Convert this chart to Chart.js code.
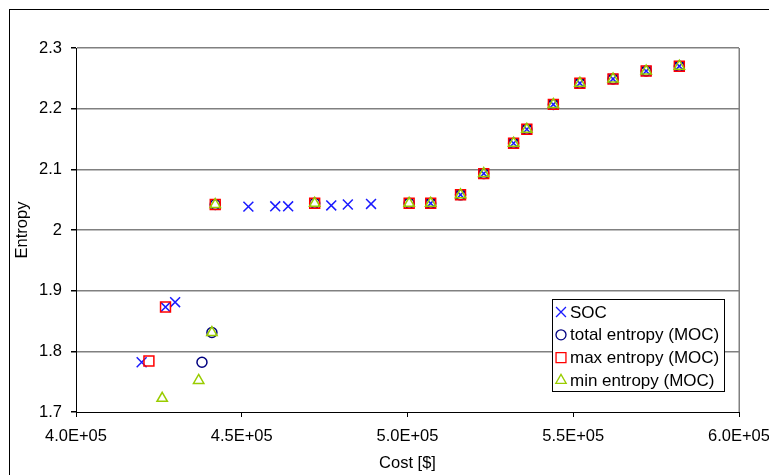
<!DOCTYPE html>
<html>
<head>
<meta charset="utf-8">
<script src="https://cdn.jsdelivr.net/npm/chart.js@4/dist/chart.umd.min.js"></script>
<style>
  html, body { margin: 0; padding: 0; background: #fff; }
  #wrap { width: 769px; height: 475px; }
</style>
</head>
<body>
<div id="wrap"><canvas id="c" width="769" height="475"></canvas></div>
<script>
// values
var socCost    = [419800, 427000, 429900, 452000, 460100, 464000, 477000, 482000, 489000, 507000,
                  516000, 523000, 532000, 536000, 544000, 552000, 562000, 572000, 582000];
var socEntropy = [1.782, 1.873, 1.881, 2.0385, 2.039, 2.039, 2.0405, 2.042, 2.043, 2.044,
                  2.058, 2.093, 2.143, 2.166, 2.207, 2.242, 2.249, 2.262, 2.270];

var totalCost    = [438000, 441000, 442000, 472000, 500500, 507000, 516000, 523000, 532000,
                    536000, 544000, 552000, 562000, 572000, 582000];
var totalEntropy = [1.782, 1.831, 2.042, 2.044, 2.044, 2.044, 2.058, 2.093, 2.143,
                    2.166, 2.207, 2.242, 2.249, 2.262, 2.270];

var maxCost    = [422000, 427000, 442000, 472000, 500500, 507000, 516000, 523000, 532000,
                  536000, 544000, 552000, 562000, 572000, 582000];
var maxEntropy = [1.784, 1.873, 2.042, 2.044, 2.044, 2.044, 2.058, 2.093, 2.143,
                  2.166, 2.207, 2.242, 2.249, 2.262, 2.270];

var minCost    = [426000, 437000, 441000, 442000, 472000, 500500, 507000, 516000, 523000,
                   532000, 536000, 544000, 552000, 562000, 572000, 582000];
var minEntropy = [1.7225, 1.752, 1.831, 2.042, 2.044, 2.044, 2.044, 2.058, 2.093,
                   2.143, 2.166, 2.207, 2.242, 2.249, 2.262, 2.270];

var seriesNames = ['SOC', 'total entropy (MOC)', 'max entropy (MOC)', 'min entropy (MOC)'];
var xTickLabels = ['4.0E+05', '4.5E+05', '5.0E+05', '5.5E+05', '6.0E+05'];
var yTickLabels = ['1.7', '1.8', '1.9', '2', '2.1', '2.2', '2.3'];

var FONT = "'Liberation Sans', Arial, sans-serif";

function pts(xs, ys) {
  return xs.map(function (x, i) { return { x: x, y: ys[i] }; });
}

var styles = [
  { style: 'crossRot', color: '#1a1aff', radius: 7 },
  { style: 'circle',   color: '#000080', radius: 5 },
  { style: 'rect',     color: '#ff0000', radius: 7 },
  { style: 'triangle', color: '#99cc00', radius: 6 }
];
var data = [pts(socCost, socEntropy), pts(totalCost, totalEntropy),
            pts(maxCost, maxEntropy), pts(minCost, minEntropy)];

var datasets = data.map(function (d, i) {
  return {
    label: seriesNames[i],
    data: d,
    showLine: false,
    pointStyle: styles[i].style,
    pointRadius: styles[i].radius,
    pointHoverRadius: styles[i].radius,
    pointBorderColor: styles[i].color,
    pointBackgroundColor: 'rgba(0,0,0,0)',
    pointBorderWidth: 1.5,
    order: 4 - i
  };
});

// outer frame, right edge of plot area, legend box
var decor = {
  id: 'decor',
  beforeDraw: function (chart) {
    var ctx = chart.ctx;
    ctx.save();
    ctx.fillStyle = '#fff';
    ctx.fillRect(0, 0, chart.width, chart.height);
    ctx.strokeStyle = '#000';
    ctx.lineWidth = 1;
    ctx.strokeRect(9.5, 9.5, 900, 900);
    ctx.restore();
  },
  afterDraw: function (chart) {
    var ctx = chart.ctx, a = chart.chartArea;
    ctx.save();
    ctx.strokeStyle = '#808080';
    ctx.lineWidth = 1.5;
    ctx.beginPath();
    ctx.moveTo(Math.round(a.right) + 0.25, a.top);
    ctx.lineTo(Math.round(a.right) + 0.25, a.bottom);
    ctx.stroke();

    // legend
    var bx = 552.5, by = 299.5, bw = 172, bh = 92;
    ctx.fillStyle = '#fff';
    ctx.fillRect(bx, by, bw, bh);
    ctx.strokeStyle = '#000';
    ctx.lineWidth = 1;
    ctx.strokeRect(bx, by, bw, bh);
    ctx.font = '17px ' + FONT;
    ctx.textBaseline = 'middle';
    ctx.textAlign = 'left';
    for (var i = 0; i < seriesNames.length; i++) {
      var y = 312 + i * 22.8;
      ctx.fillStyle = 'rgba(0,0,0,0)';
      ctx.strokeStyle = styles[i].color;
      ctx.lineWidth = 1.3;
      Chart.helpers.drawPoint(ctx, {
        pointStyle: styles[i].style,
        radius: styles[i].radius,
        borderWidth: 1.3
      }, 561, y);
      ctx.fillStyle = '#000';
      ctx.fillText(seriesNames[i], 570, y + 1);
    }
    ctx.restore();
  }
};

new Chart(document.getElementById('c'), {
  type: 'scatter',
  data: { datasets: datasets },
  options: {
    responsive: false,
    animation: false,
    devicePixelRatio: 1,
    layout: { padding: { top: 48, right: 30, left: 0, bottom: 0 } },
    plugins: {
      legend: { display: false },
      tooltip: { enabled: false }
    },
    scales: {
      x: {
        type: 'linear',
        min: 400000,
        max: 600000,
        afterFit: function (s) { s.height = 63; s.paddingLeft = 0; s.paddingRight = 0; },
        afterBuildTicks: function (s) {
          s.ticks = xTickLabels.map(function (t, i) { return { value: 400000 + i * 50000 }; });
        },
        ticks: {
          color: '#000',
          padding: 10,
          maxRotation: 0,
          font: { family: FONT, size: 16.5 },
          callback: function (v, i) { return xTickLabels[i]; }
        },
        grid: { drawOnChartArea: false, drawTicks: true, tickLength: 5, tickColor: '#000' },
        border: { color: '#000', width: 1 },
        title: {
          display: true,
          text: 'Cost [$]',
          color: '#000',
          font: { family: FONT, size: 16.5 },
          padding: { top: 0, bottom: 2 }
        }
      },
      y: {
        type: 'linear',
        min: 1.7,
        max: 2.3,
        afterFit: function (s) { s.width = 76; s.paddingTop = 0; s.paddingBottom = 0; },
        afterBuildTicks: function (s) {
          s.ticks = yTickLabels.map(function (t) { return { value: parseFloat(t) }; });
        },
        ticks: {
          color: '#000',
          padding: 9,
          font: { family: FONT, size: 16.5 },
          callback: function (v, i) { return yTickLabels[i]; }
        },
        grid: {
          color: function (c) { return c.index === 0 ? 'rgba(0,0,0,0)' : '#808080'; },
          lineWidth: 1.5,
          tickLength: 5,
          tickColor: '#000'
        },
        border: { color: '#000', width: 1 },
        title: {
          display: true,
          text: 'Entropy',
          color: '#000',
          font: { family: FONT, size: 16.5 },
          padding: { top: 13, bottom: 0 }
        }
      }
    }
  },
  plugins: [decor]
});
</script>
</body>
</html>
